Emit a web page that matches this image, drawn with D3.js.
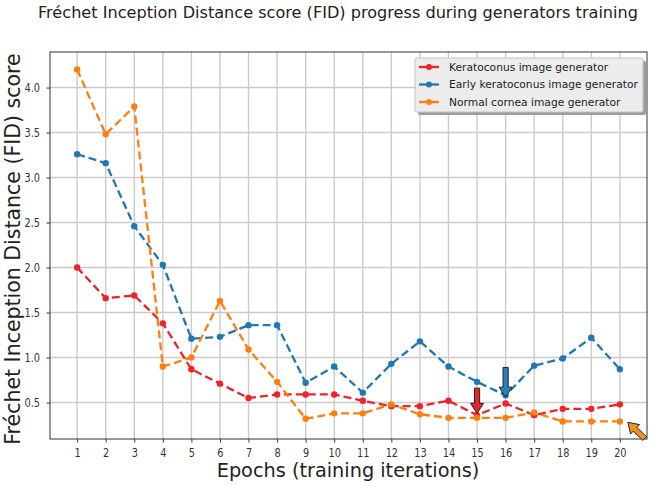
<!DOCTYPE html>
<html><head><meta charset="utf-8">
<script src="https://cdn.jsdelivr.net/npm/d3@7"></script>
<style>body{margin:0;background:#fff}svg{display:block}text{font-family:"DejaVu Sans",sans-serif}</style>
</head><body><svg id="c" width="650" height="486"></svg>
<script>
const epochs = d3.range(1, 21);
const keratoconus = [2.00,1.66,1.69,1.38,0.87,0.71,0.55,0.59,0.59,0.59,0.52,0.46,0.46,0.52,0.36,0.49,0.36,0.43,0.43,0.48];
const earlyKeratoconus = [3.26,3.16,2.46,2.03,1.21,1.23,1.36,1.36,0.72,0.90,0.61,0.93,1.18,0.90,0.73,0.58,0.91,0.99,1.22,0.87];
const normalCornea = [4.20,3.48,3.79,0.90,1.00,1.63,1.09,0.73,0.32,0.38,0.38,0.48,0.37,0.33,0.33,0.33,0.39,0.29,0.29,0.29];
const seriesNames = ["Keratoconus image generator","Early keratoconus image generator","Normal cornea image generator"];
const colors = ["#f0222a","#1f77b4","#ff7f0e"];
const yTicks = [0.5,1.0,1.5,2.0,2.5,3.0,3.5,4.0];
// annotation arrows: tail and tip in data units
const arrows = [
  {tail:[15,0.66], tip:[15,0.38], color:"#e8232a"},
  {tail:[16,0.89], tip:[16,0.56], color:"#2b7fc0"},
  {tail:[20.87,0.10], tip:[20.28,0.28], color:"#f5921e"}
];

const svg = d3.select("#c");
const L=50, R=647, T=52, B=439;
const x = d3.scaleLinear().domain([0.05,20.95]).range([L,R]);
const y = d3.scaleLinear().domain([0.095,4.395]).range([B,T]);

// grid
const g = svg.append("g");
g.selectAll(".vg").data(epochs).enter().append("line")
  .attr("x1",d=>x(d)).attr("x2",d=>x(d)).attr("y1",T).attr("y2",B)
  .attr("stroke","#cbcbcb").attr("stroke-width",1.4);
g.selectAll(".hg").data(yTicks).enter().append("line")
  .attr("y1",d=>y(d)).attr("y2",d=>y(d)).attr("x1",L).attr("x2",R)
  .attr("stroke","#cbcbcb").attr("stroke-width",1.4);

// axes
const xAxis = svg.append("g").attr("transform",`translate(0,${B})`)
  .call(d3.axisBottom(x).tickValues(epochs).tickSize(3.5).tickPadding(6).tickFormat(d3.format("d")));
const yAxis = svg.append("g").attr("transform",`translate(${L},0)`)
  .call(d3.axisLeft(y).tickValues(yTicks).tickSize(3.5).tickPadding(6.5).tickFormat(d3.format(".1f")));
[xAxis,yAxis].forEach(a=>{
  a.select(".domain").remove();
  a.selectAll("line").attr("stroke","#333");
  a.selectAll("text").attr("font-size",11.5).attr("fill","#333").style("font-family","DejaVu Sans")
    .attr("transform","scale(0.85,1)");
});
yAxis.selectAll("text").attr("x",-10/0.85);
svg.append("rect").attr("x",L).attr("y",T).attr("width",R-L).attr("height",B-T)
  .attr("fill","none").attr("stroke","#333").attr("stroke-width",1);

// series
const all = [keratoconus, earlyKeratoconus, normalCornea];
const line = d3.line().x((d,i)=>x(epochs[i])).y(d=>y(d));
all.forEach((s,k)=>{
  svg.append("path").datum(s).attr("d",line).attr("fill","none")
    .attr("stroke",colors[k]).attr("stroke-width",2.3).attr("stroke-dasharray","8,4");
  svg.selectAll(".m"+k).data(s).enter().append("circle")
    .attr("cx",(d,i)=>x(epochs[i])).attr("cy",d=>y(d)).attr("r",3.2).attr("fill",colors[k]);
});

// arrows
function arrowPath(x0,y0,x1,y1){
  const dx=x1-x0, dy=y1-y0, len=Math.hypot(dx,dy);
  const ux=dx/len, uy=dy/len, px=-uy, py=ux;
  const sw=2.6, hw=6.5, hl=10;
  const bx=x1-ux*hl, by=y1-uy*hl;
  const pts=[[x0+px*sw,y0+py*sw],[bx+px*sw,by+py*sw],[bx+px*hw,by+py*hw],[x1,y1],
    [bx-px*hw,by-py*hw],[bx-px*sw,by-py*sw],[x0-px*sw,y0-py*sw]];
  return "M"+pts.map(p=>p.join(",")).join("L")+"Z";
}
arrows.forEach(a=>{
  svg.append("path").attr("d",arrowPath(x(a.tail[0]),y(a.tail[1]),x(a.tip[0]),y(a.tip[1])))
    .attr("fill",a.color).attr("stroke","#222").attr("stroke-width",1);
});

// legend
const lg = svg.append("g");
lg.append("rect").attr("x",418).attr("y",61).attr("width",228).attr("height",54).attr("fill","#9c9c9c").attr("rx",2);
lg.append("rect").attr("x",415).attr("y",58).attr("width",228).attr("height",54).attr("fill","#ececec").attr("stroke","#c4c4c4").attr("rx",2);
seriesNames.forEach((n,k)=>{
  const yy=67+k*17.5;
  lg.append("line").attr("x1",419).attr("x2",439).attr("y1",yy).attr("y2",yy).attr("stroke",colors[k]).attr("stroke-width",2.3);
  lg.append("circle").attr("cx",429).attr("cy",yy).attr("r",3).attr("fill",colors[k]);
  lg.append("text").attr("x",449).attr("y",yy+3.8).attr("font-size",10.7).attr("fill","#222").text(n);
});

// titles
svg.append("text").attr("x",338).attr("y",17.5).attr("text-anchor","middle").attr("font-size",15.5).attr("fill","#222")
  .attr("textLength",600).attr("lengthAdjust","spacingAndGlyphs")
  .text("Fréchet Inception Distance score (FID) progress during generators training");
svg.append("text").attr("x",348).attr("y",477).attr("text-anchor","middle").attr("font-size",19.3).attr("fill","#222")
  .text("Epochs (training iterations)");
svg.append("text").attr("transform",`translate(19.5,249) rotate(-90)`).attr("text-anchor","middle").attr("font-size",20.5).attr("fill","#222")
  .text("Fréchet Inception Distance (FID) score");
</script></body></html>
